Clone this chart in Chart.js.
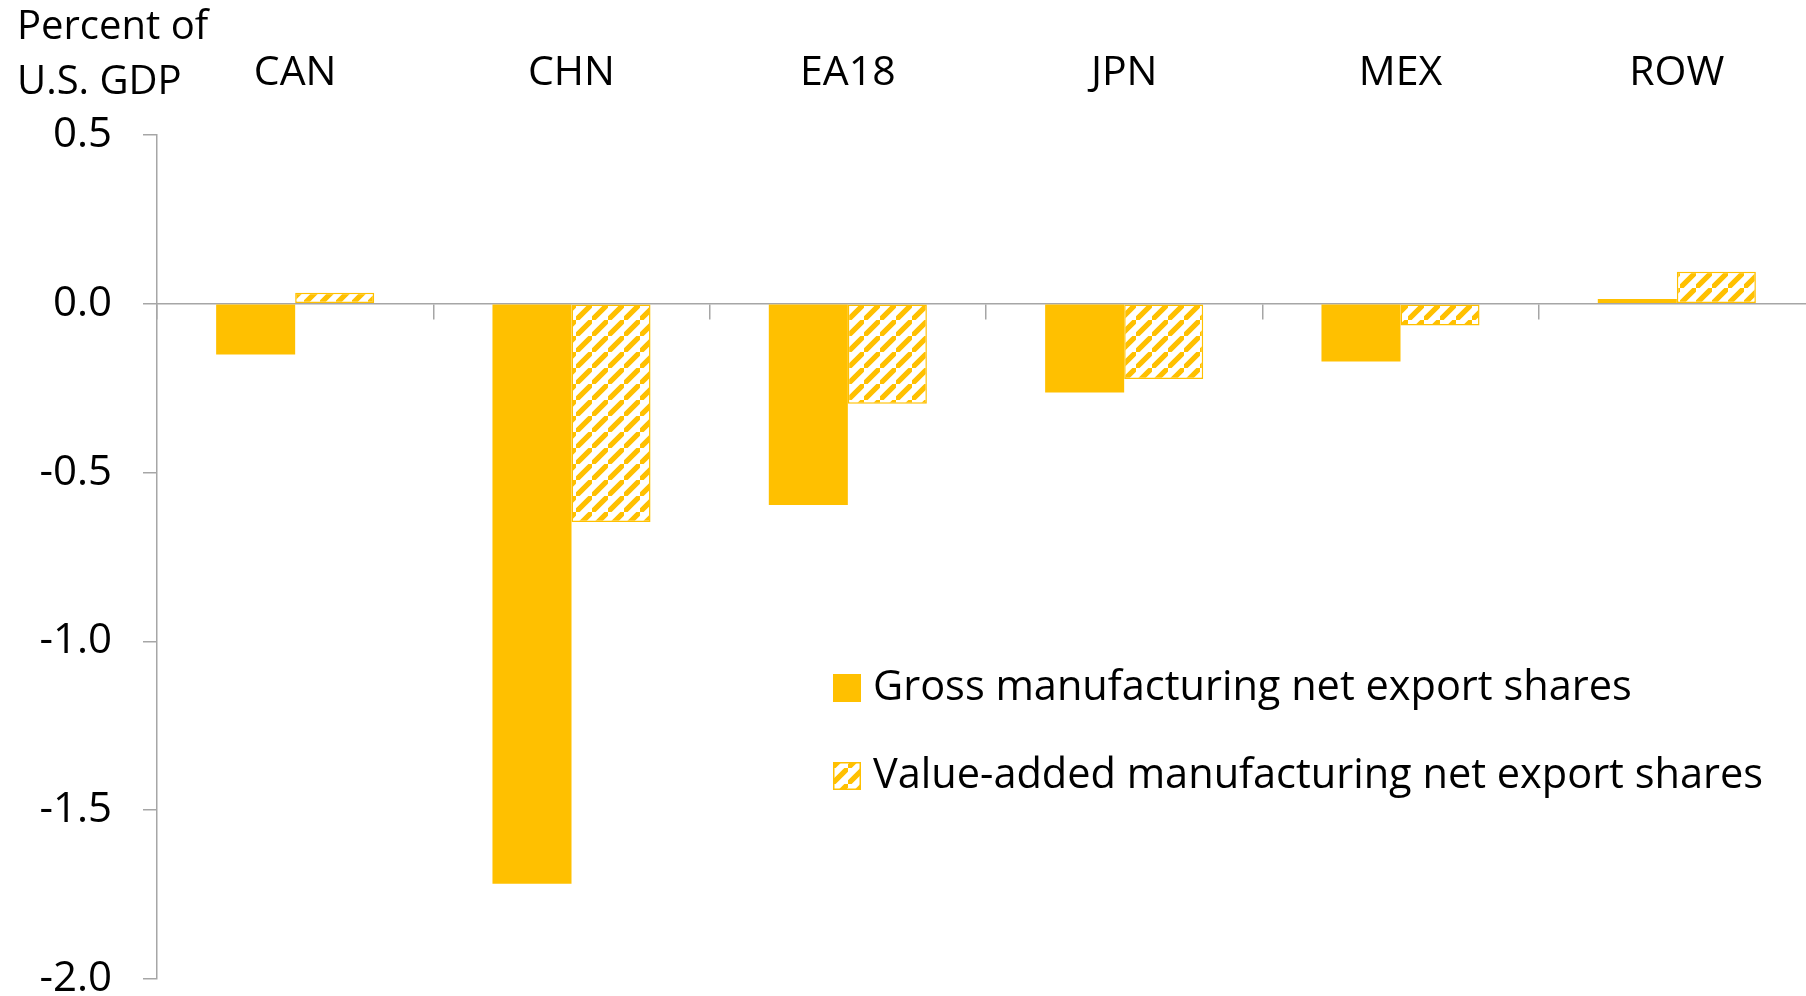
<!DOCTYPE html>
<html>
<head>
<meta charset="utf-8">
<script src="https://cdn.jsdelivr.net/npm/chart.js@4.4.1/dist/chart.umd.min.js"></script>
<style>
  html, body { margin: 0; padding: 0; background: #fff; overflow: hidden; }
  #wrap { position: relative; width: 1830px; height: 996px; }
</style>
</head>
<body>
<div id="wrap"><canvas id="c"></canvas></div>
<script>
// ---- data ----
const categories = ['CAN', 'CHN', 'EA18', 'JPN', 'MEX', 'ROW'];
const grossShares = [-0.150, -1.718, -0.596, -0.263, -0.171, 0.014];
const valueAddedShares = [0.033, -0.646, -0.296, -0.223, -0.064, 0.095];
const seriesLabels = ['Gross manufacturing net export shares', 'Value-added manufacturing net export shares'];
const yTickValues = [0.5, 0.0, -0.5, -1.0, -1.5, -2.0];
const yAxisTitle = ['Percent of', 'U.S. GDP'];

const GOLD = '#FFC000';
const AXIS_GRAY = '#A6A6A6';
const FONT = "'Open Sans', 'Liberation Sans', sans-serif";

function makeHatch() {
  const n = 16;
  const t = document.createElement('canvas');
  t.width = n; t.height = n;
  const g = t.getContext('2d');
  g.fillStyle = '#fff';
  g.fillRect(0, 0, n, n);
  g.strokeStyle = GOLD;
  g.lineWidth = 5.2;
  g.lineCap = 'square';
  g.beginPath();
  g.moveTo(-4, n + 4); g.lineTo(n + 4, -4);
  g.moveTo(-n - 4, 4); g.lineTo(4, -n - 4);
  g.moveTo(n - 4, 2 * n + 4); g.lineTo(2 * n + 4, n - 4);
  g.stroke();
  return t;
}
const hatchCanvas = makeHatch();
const ctx = document.getElementById('c').getContext('2d');
const hatch = ctx.createPattern(hatchCanvas, 'repeat');

const legendPlugin = {
  id: 'customLegend',
  afterDraw(chart) {
    const c = chart.ctx;
    const items = chart.data.datasets;
    const x0 = 833, rows = [688, 776];
    c.save();
    items.forEach((ds, i) => {
      const cy = rows[i];
      const bx = x0, by = cy - 14, bs = 28;
      c.fillStyle = ds.backgroundColor;
      c.fillRect(bx, by, bs, bs);
      if (i === 1) {
        c.strokeStyle = GOLD; c.lineWidth = 1.5;
        c.strokeRect(bx + 0.75, by + 0.75, bs - 1.5, bs - 1.5);
      }
      c.fillStyle = '#000';
      c.font = '41.5px ' + FONT;
      c.textBaseline = 'middle';
      c.textAlign = 'left';
      c.fillText(ds.label, x0 + 40, cy);
    });
    c.restore();
  }
};

const titlePlugin = {
  id: 'yTitle',
  afterDraw(chart) {
    const c = chart.ctx;
    c.save();
    c.fillStyle = '#000';
    c.font = '40px ' + FONT;
    c.textBaseline = 'alphabetic';
    c.textAlign = 'left';
    c.fillText(yAxisTitle[0], 17, 39);
    c.fillText(yAxisTitle[1], 17, 94);
    c.restore();
  }
};

function zeroPad(s) {
  s.paddingLeft = 0; s.paddingRight = 0; s.paddingTop = 0; s.paddingBottom = 0;
}

new Chart(ctx, {
  type: 'bar',
  data: {
    labels: categories,
    datasets: [
      {
        label: seriesLabels[0],
        data: grossShares,
        backgroundColor: GOLD,
        borderColor: GOLD,
        borderWidth: 0,
        xAxisID: 'x',
        categoryPercentage: 0.572,
        barPercentage: 1.0
      },
      {
        label: seriesLabels[1],
        data: valueAddedShares,
        backgroundColor: hatch,
        borderColor: GOLD,
        borderWidth: 1.5,
        borderSkipped: false,
        xAxisID: 'x',
        categoryPercentage: 0.572,
        barPercentage: 1.0
      }
    ]
  },
  options: {
    responsive: true,
    maintainAspectRatio: false,
    animation: false,
    events: [],
    layout: { padding: { left: 0, right: 15, top: 0, bottom: 17 } },
    plugins: {
      legend: { display: false },
      tooltip: { enabled: false }
    },
    scales: {
      x: {
        type: 'category',
        position: { y: 0 },
        offset: true,
        grid: {
          offset: true,
          drawOnChartArea: false,
          drawTicks: true,
          tickLength: 15,
          color: AXIS_GRAY,
          lineWidth: 1.5
        },
        border: { display: true, color: AXIS_GRAY, width: 1.5 },
        ticks: { display: false },
        afterFit(s) { zeroPad(s); s.height = 0; }
      },
      x2: {
        type: 'category',
        labels: categories,
        position: 'top',
        offset: true,
        grid: { display: false, drawTicks: false },
        border: { display: false },
        ticks: {
          color: '#000',
          font: { family: FONT, size: 41 },
          padding: 37,
          maxRotation: 0,
          autoSkip: false
        },
        afterFit(s) { zeroPad(s); s.height = 135; }
      },
      y: {
        min: -2.0,
        max: 0.5,
        afterBuildTicks(s) { s.ticks = yTickValues.map(v => ({ value: v })); },
        grid: {
          drawOnChartArea: false,
          drawTicks: true,
          tickLength: 14,
          color: AXIS_GRAY,
          lineWidth: 1.5
        },
        border: { display: true, color: AXIS_GRAY, width: 1.5 },
        ticks: {
          color: '#000',
          font: { family: FONT, size: 42 },
          padding: 31,
          callback: (v) => Number(v).toFixed(1)
        },
        afterFit(s) { zeroPad(s); s.width = 157; }
      }
    }
  },
  plugins: [legendPlugin, titlePlugin]
});
</script>
</body>
</html>
